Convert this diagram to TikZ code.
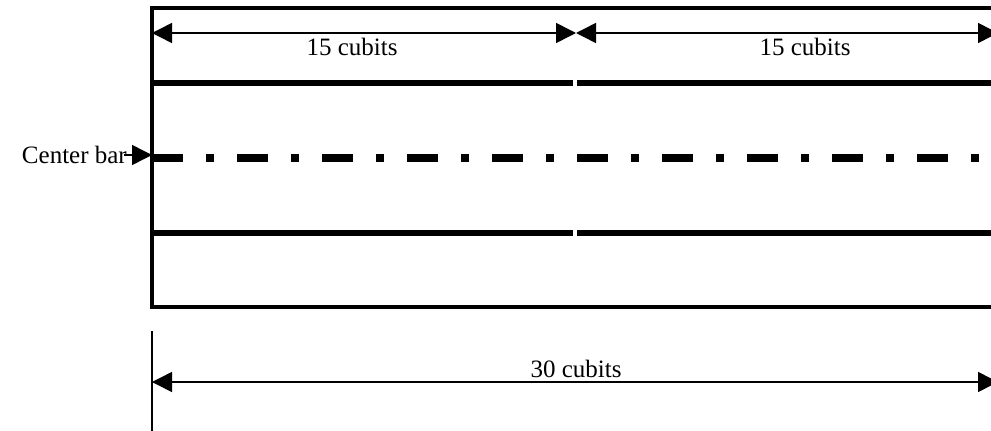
\documentclass[tikz,border=0pt]{standalone}
\usepackage{fontspec}
\setmainfont{Liberation Serif}
\usetikzlibrary{arrows.meta}
\tikzset{
  frame/.style={line width=4pt},
  bar/.style={line width=6pt},
  centerline/.style={line width=8pt, dash pattern=on 31pt off 23pt on 8pt off 23pt},
  dim/.style={line width=1.5pt, {Triangle[length=20pt,width=20pt]}-{Triangle[length=20pt,width=20pt]}},
  pointer/.style={line width=1.5pt, -{Triangle[length=20pt,width=20pt]}},
  lbl/.style={font=\fontsize{25}{29}\selectfont, inner sep=0pt, anchor=base}
}
\begin{document}
\begin{tikzpicture}[x=1pt,y=-1pt]
\useasboundingbox (0,0) rectangle (991,431);
\clip (0,0) rectangle (991,431);
% named points
\coordinate (TL) at (150,8);
\coordinate (TR) at (995,8);
\coordinate (VL0) at (152,6);
\coordinate (VL1) at (152,309);
\coordinate (BL) at (150,307);
\coordinate (BR) at (995,307);
\coordinate (U0) at (152,83);
\coordinate (U1) at (573,83);
\coordinate (U2) at (577,83);
\coordinate (U3) at (995,83);
\coordinate (D0) at (152,233);
\coordinate (D1) at (573,233);
\coordinate (D2) at (577,233);
\coordinate (D3) at (995,233);
\coordinate (C0) at (152,158);
\coordinate (C1) at (995,158);
\coordinate (A0) at (152,33);
\coordinate (A1) at (576,33);
\coordinate (A2) at (998,33);
\coordinate (P0) at (124,155);
\coordinate (P1) at (152,155);
\coordinate (E0) at (152,331);
\coordinate (E1) at (152,431);
\coordinate (B0) at (152,382);
\coordinate (B1) at (998,382);
% frame
\draw[frame] (TL) -- (TR);
\draw[frame] (BL) -- (BR);
\draw[frame] (VL0) -- (VL1);
% bars
\draw[bar] (U0) -- (U1);
\draw[bar] (U2) -- (U3);
\draw[bar] (D0) -- (D1);
\draw[bar] (D2) -- (D3);
\draw[centerline] (C0) -- (C1);
% dimensions
\draw[dim] (A0) -- (A1);
\draw[dim] (A1) -- (A2);
\draw[line width=1.5pt] (E0) -- (E1);
\draw[dim] (B0) -- (B1);
% labels
\node[lbl] (t1) at (352,55) {15 cubits};
\node[lbl] (t2) at (805,55) {15 cubits};
\node[lbl] (t3) at (576,377) {30 cubits};
\node[lbl, anchor=base east] (cb) at (127,163) {Center bar};
\draw[pointer] (P0) -- (P1);
\end{tikzpicture}
\end{document}
